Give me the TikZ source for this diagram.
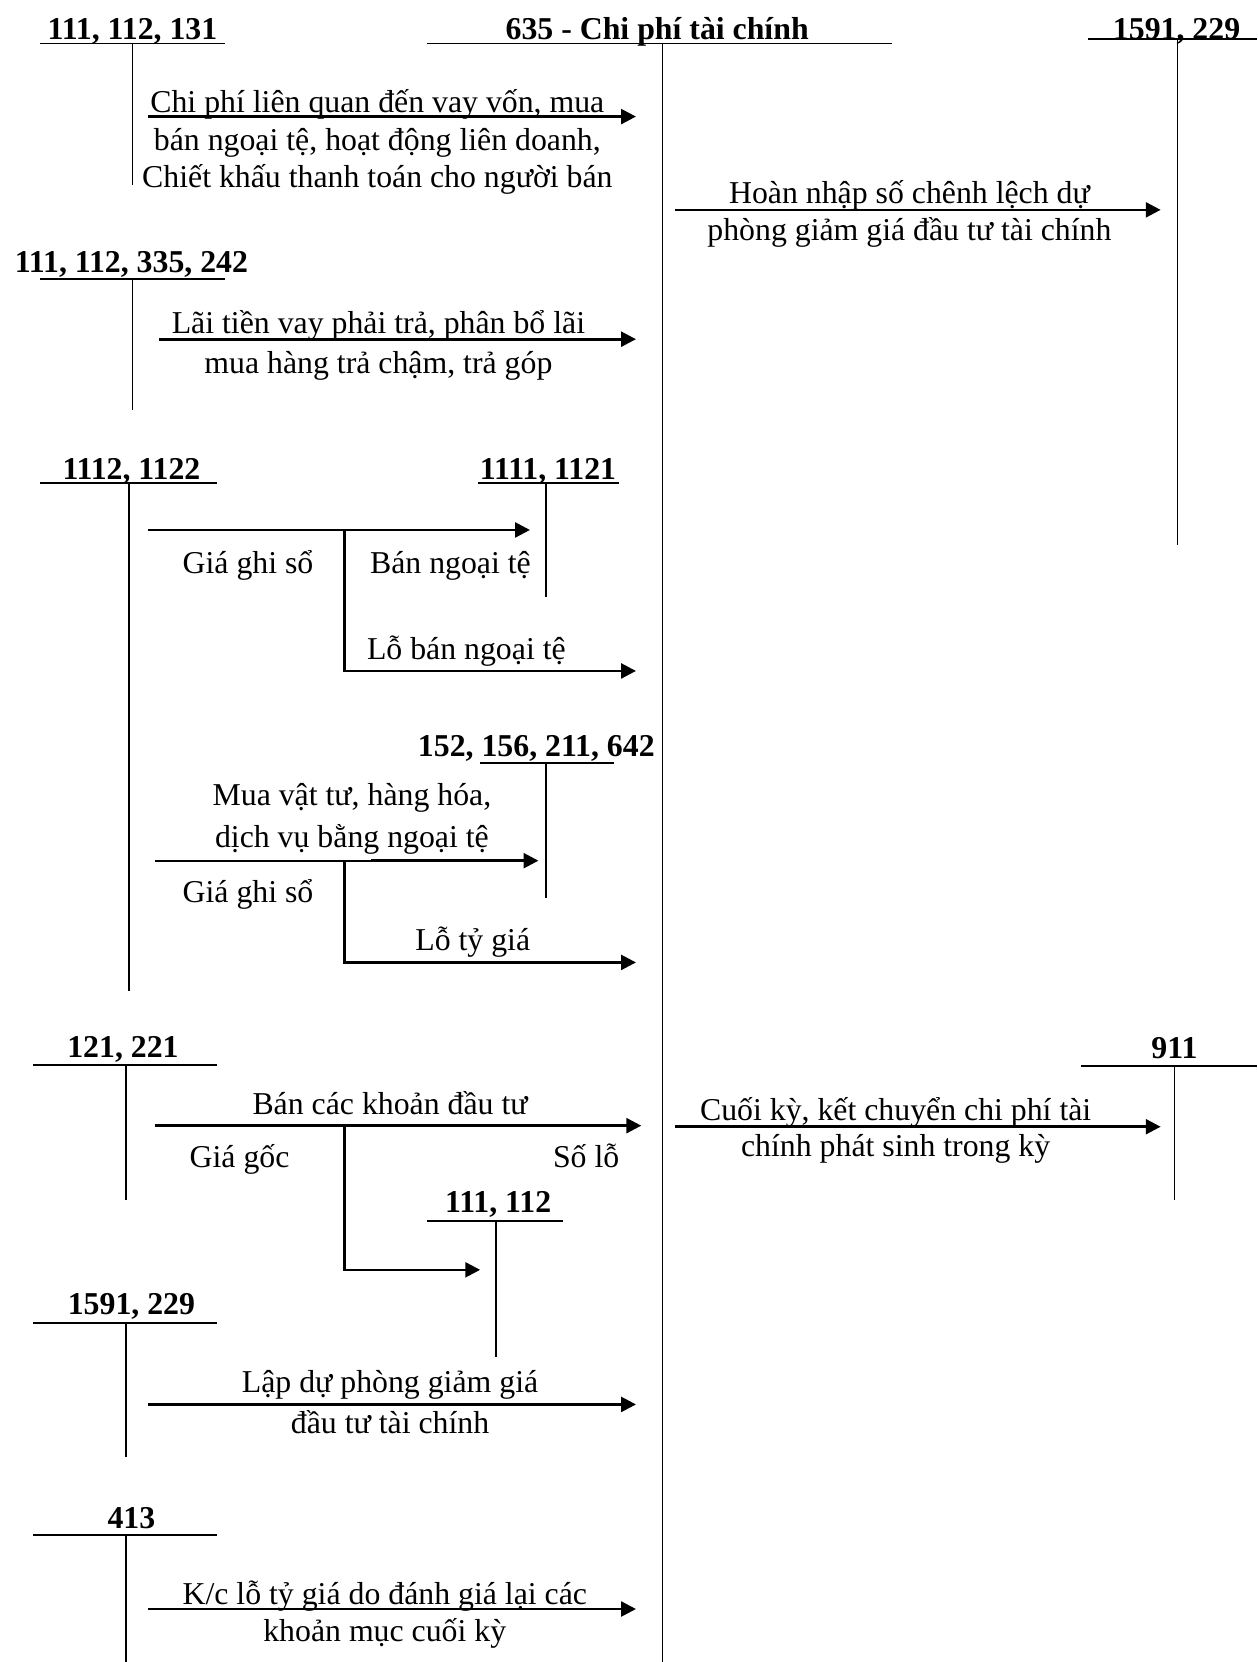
\documentclass[tikz,border=0pt]{standalone}
\usepackage{fontspec}
\setmainfont{Liberation Serif}
\usetikzlibrary{arrows.meta}
\begin{document}
\begin{tikzpicture}[x=0.5pt,y=-0.5pt,
 tl/.style={line width=0.8pt},
 ar/.style={line width=1.25pt,-{Triangle[length=7pt,width=7pt]}},
 lbl/.style={inner sep=0pt,anchor=base,font=\fontsize{15}{17}\selectfont},
 hd/.style={inner sep=0pt,anchor=base,font=\fontsize{15}{17}\selectfont\bfseries}]
\useasboundingbox[fill=white] (0,0) rectangle (1186,1568);

% ---------- main account 635 ----------
\node[hd] (m) at (620,37) {635 - Chi phí tài chính};
\coordinate (mL) at (403,41); \coordinate (mR) at (842,41);
\coordinate (mT) at (625,41); \coordinate (mB) at (625,1568);
\draw[tl] (mL) -- (mR); \draw[tl] (mT) -- (mB);

% ---------- 111,112,131 ----------
\node[hd] (a1) at (125,37) {111, 112, 131};
\coordinate (a1L) at (38,41); \coordinate (a1R) at (212,41);
\coordinate (a1T) at (125,41); \coordinate (a1B) at (125,175);
\draw[tl] (a1L) -- (a1R); \draw[tl] (a1T) -- (a1B);
\coordinate (r1s) at (140,110); \coordinate (r1e) at (600,110);
\draw[ar] (r1s) -- (r1e);
\node[lbl] (t1a) at (356,106) {Chi phí liên quan đến vay vốn, mua};
\node[lbl] (t1b) at (356,142) {bán ngoại tệ, hoạt động liên doanh,};
\node[lbl] (t1c) at (356,177) {Chiết khấu thanh toán cho người bán};

% ---------- 1591,229 (top right) ----------
\node[hd] (a2) at (1110,37) {1591, 229};
\coordinate (a2L) at (1026,37); \coordinate (a2R) at (1186,37);
\coordinate (a2T) at (1111,37); \coordinate (a2B) at (1111,514);
\draw[tl] (a2L) -- (a2R); \draw[tl] (a2T) -- (a2B);
\coordinate (r2s) at (637,198); \coordinate (r2e) at (1095,198);
\draw[ar] (r2s) -- (r2e);
\node[lbl] (t2a) at (858,192) {Hoàn nhập số chênh lệch dự};
\node[lbl] (t2b) at (858,227) {phòng giảm giá đầu tư tài chính};

% ---------- 111,112,335,242 ----------
\node[hd] (a3) at (124,257) {111, 112, 335, 242};
\coordinate (a3L) at (38,263); \coordinate (a3R) at (212,263);
\coordinate (a3T) at (125,263); \coordinate (a3B) at (125,387);
\draw[tl] (a3L) -- (a3R); \draw[tl] (a3T) -- (a3B);
\coordinate (r3s) at (150,320); \coordinate (r3e) at (600,320);
\draw[ar] (r3s) -- (r3e);
\node[lbl] (t3a) at (357,315) {Lãi tiền vay phải trả, phân bổ lãi};
\node[lbl] (t3b) at (357,352) {mua hàng trả chậm, trả góp};

% ---------- 1112,1122 and 1111,1121 ----------
\node[hd] (a4) at (124,452) {1112, 1122};
\coordinate (a4L) at (38,456); \coordinate (a4R) at (205,456);
\coordinate (a4T) at (122,456); \coordinate (a4B) at (122,935);
\draw[tl] (a4L) -- (a4R); \draw[tl] (a4T) -- (a4B);
\node[hd] (a5) at (517,452) {1111, 1121};
\coordinate (a5L) at (451,456); \coordinate (a5R) at (584,456);
\coordinate (a5T) at (515,456); \coordinate (a5B) at (515,563);
\draw[tl] (a5L) -- (a5R); \draw[tl] (a5T) -- (a5B);
\coordinate (r4s) at (140,500); \coordinate (r4e) at (500,500);
\draw[ar] (r4s) -- (r4e);
\coordinate (j4) at (325,500); \coordinate (r5e) at (600,633);
\draw[ar] (j4) |- (r5e);
\node[lbl] (t4a) at (234,541) {Giá ghi sổ};
\node[lbl] (t4b) at (425,541) {Bán ngoại tệ};
\node[lbl] (t5a) at (440,622) {Lỗ bán ngoại tệ};

% ---------- 152,156,211,642 ----------
\node[hd] (a6) at (506,714) {152, 156, 211, 642};
\coordinate (a6L) at (453,720); \coordinate (a6R) at (579,720);
\coordinate (a6T) at (515,720); \coordinate (a6B) at (515,847);
\draw[tl] (a6L) -- (a6R); \draw[tl] (a6T) -- (a6B);
\coordinate (r6s) at (146,812); \coordinate (r6m) at (350,812); \coordinate (r6e) at (508,812);
\draw[tl] (r6s) -- (r6m);
\draw[ar] (r6m) -- (r6e);
\coordinate (j6) at (325,812); \coordinate (r7e) at (600,908);
\draw[ar] (j6) |- (r7e);
\node[lbl] (t6a) at (332,760) {Mua vật tư, hàng hóa,};
\node[lbl] (t6b) at (332,800) {dịch vụ bằng ngoại tệ};
\node[lbl] (t6c) at (234,851) {Giá ghi sổ};
\node[lbl] (t7a) at (446,897) {Lỗ tỷ giá};

% ---------- 121,221 and 111,112 ----------
\node[hd] (a7) at (116,998) {121, 221};
\coordinate (a7L) at (31,1005); \coordinate (a7R) at (205,1005);
\coordinate (a7T) at (119,1005); \coordinate (a7B) at (119,1132);
\draw[tl] (a7L) -- (a7R); \draw[tl] (a7T) -- (a7B);
\coordinate (r8s) at (146,1062); \coordinate (r8e) at (605,1062);
\draw[ar] (r8s) -- (r8e);
\node[lbl] (t8a) at (368,1051) {Bán các khoản đầu tư};
\node[lbl] (t8b) at (226,1101) {Giá gốc};
\node[lbl] (t8c) at (553,1101) {Số lỗ};
\coordinate (j8) at (325,1062); \coordinate (r9e) at (453,1198);
\draw[ar] (j8) |- (r9e);
\node[hd] (a8) at (470,1144) {111, 112};
\coordinate (a8L) at (403,1152); \coordinate (a8R) at (531,1152);
\coordinate (a8T) at (468,1152); \coordinate (a8B) at (468,1280);
\draw[tl] (a8L) -- (a8R); \draw[tl] (a8T) -- (a8B);

% ---------- 911 ----------
\node[hd] (a9) at (1108,999) {911};
\coordinate (a9L) at (1020,1006); \coordinate (a9R) at (1186,1006);
\coordinate (a9T) at (1108,1006); \coordinate (a9B) at (1108,1132);
\draw[tl] (a9L) -- (a9R); \draw[tl] (a9T) -- (a9B);
\coordinate (r10s) at (637,1063); \coordinate (r10e) at (1095,1063);
\draw[ar] (r10s) -- (r10e);
\node[lbl] (t10a) at (845,1057) {Cuối kỳ, kết chuyển chi phí tài};
\node[lbl] (t10b) at (845,1091) {chính phát sinh trong kỳ};

% ---------- 1591,229 (bottom left) ----------
\node[hd] (a10) at (124,1240) {1591, 229};
\coordinate (a10L) at (31,1248); \coordinate (a10R) at (205,1248);
\coordinate (a10T) at (119,1248); \coordinate (a10B) at (119,1375);
\draw[tl] (a10L) -- (a10R); \draw[tl] (a10T) -- (a10B);
\coordinate (r11s) at (140,1325); \coordinate (r11e) at (600,1325);
\draw[ar] (r11s) -- (r11e);
\node[lbl] (t11a) at (368,1314) {Lập dự phòng giảm giá};
\node[lbl] (t11b) at (368,1352) {đầu tư tài chính};

% ---------- 413 ----------
\node[hd] (a11) at (124,1442) {413};
\coordinate (a11L) at (31,1448); \coordinate (a11R) at (205,1448);
\coordinate (a11T) at (119,1448); \coordinate (a11B) at (119,1568);
\draw[tl] (a11L) -- (a11R); \draw[tl] (a11T) -- (a11B);
\coordinate (r12s) at (140,1518); \coordinate (r12e) at (600,1518);
\draw[ar] (r12s) -- (r12e);
\node[lbl] (t12a) at (363,1514) {K/c lỗ tỷ giá do đánh giá lại các};
\node[lbl] (t12b) at (363,1549) {khoản mục cuối kỳ};
\end{tikzpicture}
\end{document}
